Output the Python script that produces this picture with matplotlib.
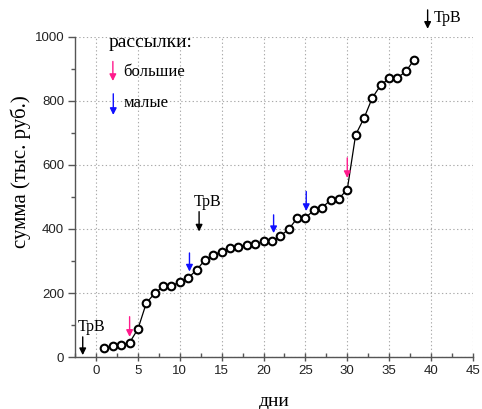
import matplotlib
matplotlib.use("Agg")
import matplotlib.pyplot as plt
from matplotlib.ticker import MultipleLocator

# ---- data ----
days = [1, 2, 3, 4, 5, 6, 7, 8, 9, 10, 11, 12, 13, 14, 15, 16, 17, 18, 19,
        20, 21, 22, 23, 24, 25, 26, 27, 28, 29, 30, 31, 32, 33, 34, 35, 36, 37, 38]
sums = [27, 35, 38, 45, 88, 169, 199, 221, 223, 234, 247, 272, 303, 320, 329,
        340, 345, 351, 354, 361, 362, 378, 399, 433, 435, 458, 467, 490, 495,
        523, 694, 746, 810, 849, 870, 872, 892, 929]

big_x = [4, 30]
big_top = [126, 622]
big_tip = [63, 559]

small_x = [11.15, 21.2, 25.1]
small_top = [325, 444, 517]
small_tip = [267, 387, 456]

trv_x = [-1.6, 12.3, 39.6]
trv_top = [63, 454, 1084]
trv_tip = [6, 392, 1025]
trv_label = "ТрВ"

x_ticks = [0, 5, 10, 15, 20, 25, 30, 35, 40, 45]
y_ticks = [0, 200, 400, 600, 800, 1000]

xlabel = "дни"
ylabel = "сумма (тыс. руб.)"
legend_title = "рассылки:"
legend_big = "большие"
legend_small = "малые"

PINK = "#ff1a8c"
BLUE = "#1010ff"
SERIF = ["Liberation Serif", "DejaVu Serif"]
SANS = ["Liberation Sans", "DejaVu Sans"]

fig = plt.figure(figsize=(4.82, 4.09), dpi=100)
ax = fig.add_axes([0.156, 0.127, 0.825, 0.783])

ax.plot(days, sums, color="black", lw=0.9, marker="o", ms=5.5,
        mfc="white", mec="black", mew=1.5, zorder=3)

ax.set_xlim(-2.5, 45)
ax.set_ylim(0, 1000)
ax.set_xticks(x_ticks)
ax.set_yticks(y_ticks)
ax.xaxis.set_minor_locator(MultipleLocator(2.5))
ax.yaxis.set_minor_locator(MultipleLocator(100))

ax.grid(True, which="major", linestyle=(0, (1.2, 2.2)), color="#aaaaaa", lw=0.8)
for s in ["top", "right"]:
    ax.spines[s].set_visible(False)
for s in ["left", "bottom"]:
    ax.spines[s].set_color("#555555")
    ax.spines[s].set_linewidth(1.0)

ax.tick_params(axis="both", which="major", length=5, width=1, color="#555555",
               labelsize=9.5, pad=3)
ax.tick_params(axis="y", which="minor", length=3, width=1, color="#555555")
ax.tick_params(axis="x", which="major", direction="inout", length=6)
ax.tick_params(axis="x", which="minor", direction="in", length=3, width=1,
               color="#555555")
for lab in ax.get_xticklabels() + ax.get_yticklabels():
    lab.set_family(SANS)
    lab.set_color("#222222")

ax.set_xlabel(xlabel, family=SERIF, fontsize=14, labelpad=11)
ax.set_ylabel(ylabel, family=SERIF, fontsize=15)
ax.yaxis.set_label_coords(-0.11, 0.58)


def arrow(x, top, tip, color):
    ax.annotate("", xy=(x, tip), xytext=(x, top),
                arrowprops=dict(arrowstyle="-|>", color=color, lw=1.0,
                                mutation_scale=10, shrinkA=0, shrinkB=0),
                annotation_clip=False, zorder=4)


for x, t, p in zip(big_x, big_top, big_tip):
    arrow(x, t, p, PINK)
for x, t, p in zip(small_x, small_top, small_tip):
    arrow(x, t, p, BLUE)
for x, t, p in zip(trv_x, trv_top, trv_tip):
    arrow(x, t, p, "black")

# ТрВ labels
ax.text(-0.5, 95, trv_label, family=SERIF, fontsize=11.5, ha="center",
        va="center", clip_on=False)
ax.text(13.3, 485, trv_label, family=SERIF, fontsize=11.5, ha="center",
        va="center")
ax.text(40.3, 1058, trv_label, family=SERIF, fontsize=11.5, ha="left",
        va="center", clip_on=False)

# legend-like annotation
ax.text(1.5, 981, legend_title, family=SERIF, fontsize=14, ha="left",
        va="center")
arrow(2.0, 923, 862, PINK)
ax.text(3.3, 891, legend_big, family=SERIF, fontsize=12, ha="left",
        va="center")
arrow(2.05, 822, 756, BLUE)
ax.text(3.3, 793, legend_small, family=SERIF, fontsize=12, ha="left",
        va="center")

fig.savefig("out.png", dpi=100)
